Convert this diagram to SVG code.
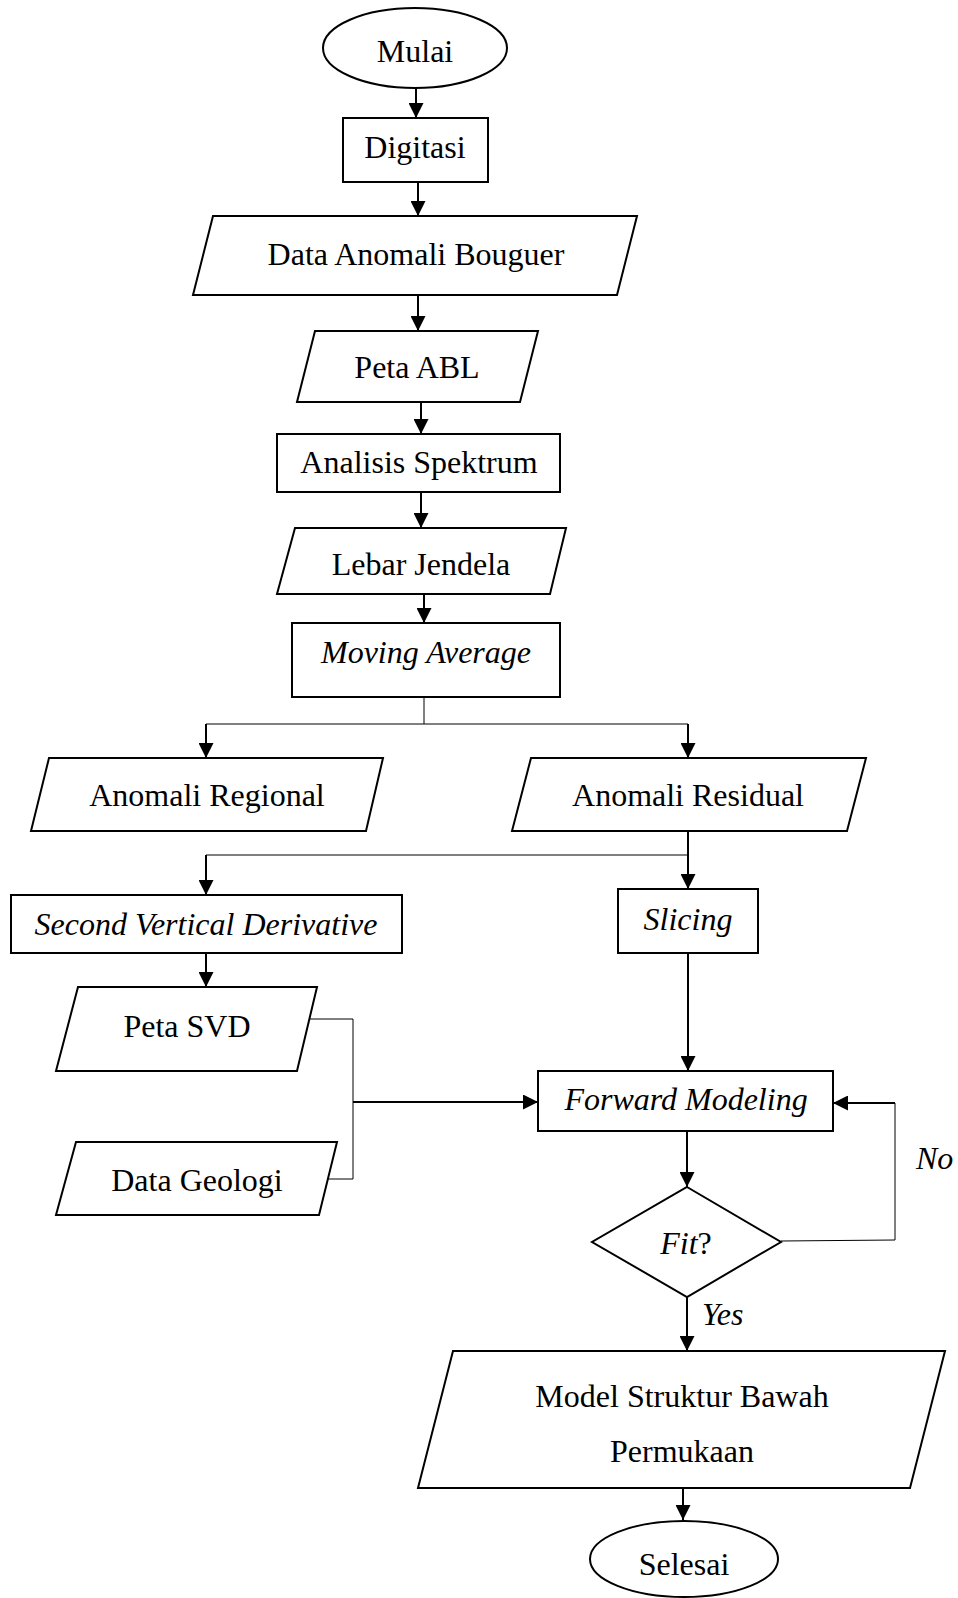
<svg xmlns="http://www.w3.org/2000/svg" width="958" height="1598" viewBox="0 0 958 1598">
<style>
.s{fill:#fff;stroke:#000;stroke-width:2}
.t{font-family:"Liberation Serif","Times New Roman",serif;font-size:32px;fill:#000;text-anchor:middle}
.i{font-style:italic}
.c{fill:none;stroke:#000;stroke-width:2}
.n{fill:none;stroke:#000;stroke-width:1}
</style>
<defs>
<marker id="a" markerUnits="userSpaceOnUse" viewBox="0 0 15 15" markerWidth="15" markerHeight="15" refX="15" refY="7.5" orient="auto">
<path d="M0,0 L15,7.5 L0,15 z" fill="#000"/>
</marker>
</defs>
<rect width="958" height="1598" fill="#fff"/>
<g id="connectors">
<line class="c" x1="416" y1="88" x2="416" y2="118" marker-end="url(#a)"/>
<line class="c" x1="418" y1="182" x2="418" y2="216" marker-end="url(#a)"/>
<line class="c" x1="418" y1="295" x2="418" y2="331" marker-end="url(#a)"/>
<line class="c" x1="421" y1="402" x2="421" y2="434" marker-end="url(#a)"/>
<line class="c" x1="421" y1="492" x2="421" y2="528" marker-end="url(#a)"/>
<line class="c" x1="424" y1="594" x2="424" y2="623" marker-end="url(#a)"/>
<polyline class="n" points="424,687 424,724"/>
<polyline class="n" points="206,724 688,724"/>
<line class="c" x1="206" y1="724" x2="206" y2="758" marker-end="url(#a)"/>
<line class="c" x1="688" y1="724" x2="688" y2="758" marker-end="url(#a)"/>
<line class="c" x1="688" y1="831" x2="688" y2="889" marker-end="url(#a)"/>
<polyline class="n" points="206,855 688,855"/>
<line class="c" x1="206" y1="855" x2="206" y2="895" marker-end="url(#a)"/>
<line class="c" x1="206" y1="953" x2="206" y2="987" marker-end="url(#a)"/>
<polyline class="n" points="310,1019 353,1019 353,1179 325,1179"/>
<line class="c" x1="353" y1="1102" x2="538" y2="1102" marker-end="url(#a)"/>
<line class="c" x1="688" y1="948" x2="688" y2="1071" marker-end="url(#a)"/>
<line class="c" x1="687" y1="1131" x2="687" y2="1187" marker-end="url(#a)"/>
<polyline class="n" points="781,1241 895,1240 895,1103"/>
<line class="c" x1="895" y1="1103" x2="833" y2="1103" marker-end="url(#a)"/>
<line class="c" x1="687" y1="1297" x2="687" y2="1351" marker-end="url(#a)"/>
<line class="c" x1="683" y1="1488" x2="683" y2="1520" marker-end="url(#a)"/>
<text class="t i" x="916" y="1169" style="text-anchor:start">No</text>
<text class="t i" x="702" y="1325" style="text-anchor:start">Yes</text>
</g>
<g id="mulai">
<ellipse class="s" cx="415" cy="48" rx="92" ry="40"/>
<text class="t" x="415" y="62">Mulai</text>
</g>
<g id="digitasi">
<rect class="s" x="343" y="118" width="145" height="64"/>
<text class="t" x="415" y="158">Digitasi</text>
</g>
<g id="data-anomali-bouguer">
<polygon class="s" points="213,216 637,216 617,295 193,295"/>
<text class="t" x="416" y="265">Data Anomali Bouguer</text>
</g>
<g id="peta-abl">
<polygon class="s" points="315,331 538,331 520,402 297,402"/>
<text class="t" x="417" y="378">Peta ABL</text>
</g>
<g id="analisis-spektrum">
<rect class="s" x="277" y="434" width="283" height="58"/>
<text class="t" x="419" y="473">Analisis Spektrum</text>
</g>
<g id="lebar-jendela">
<polygon class="s" points="295,528 566,528 550,594 277,594"/>
<text class="t" x="421" y="575">Lebar Jendela</text>
</g>
<g id="moving-average">
<rect class="s" x="292" y="623" width="268" height="74"/>
<text class="t i" x="426" y="663">Moving Average</text>
</g>
<g id="anomali-regional">
<polygon class="s" points="49,758 383,758 366,831 31,831"/>
<text class="t" x="207" y="806">Anomali Regional</text>
</g>
<g id="anomali-residual">
<polygon class="s" points="531,758 866,758 847,831 512,831"/>
<text class="t" x="688" y="806">Anomali Residual</text>
</g>
<g id="svd">
<rect class="s" x="11" y="895" width="391" height="58"/>
<text class="t i" x="206" y="935">Second Vertical Derivative</text>
</g>
<g id="slicing">
<rect class="s" x="618" y="889" width="140" height="64"/>
<text class="t i" x="688" y="930">Slicing</text>
</g>
<g id="peta-svd">
<polygon class="s" points="78,987 317,987 297,1071 56,1071"/>
<text class="t" x="187" y="1037">Peta SVD</text>
</g>
<g id="data-geologi">
<polygon class="s" points="76,1142 337,1142 319,1215 56,1215"/>
<text class="t" x="197" y="1191">Data Geologi</text>
</g>
<g id="forward-modeling">
<rect class="s" x="538" y="1071" width="295" height="60"/>
<text class="t i" x="686" y="1110">Forward Modeling</text>
</g>
<g id="fit">
<polygon class="s" points="687,1187 781,1242 687,1297 592,1242"/>
<text class="t" x="686" y="1254"><tspan class="i">Fit</tspan>?</text>
</g>
<g id="model">
<polygon class="s" points="453,1351 945,1351 910,1488 418,1488"/>
<text class="t" x="682" y="1407">Model Struktur Bawah</text>
<text class="t" x="682" y="1462">Permukaan</text>
</g>
<g id="selesai">
<ellipse class="s" cx="684" cy="1559" rx="94" ry="38"/>
<text class="t" x="684" y="1575">Selesai</text>
</g>
</svg>
